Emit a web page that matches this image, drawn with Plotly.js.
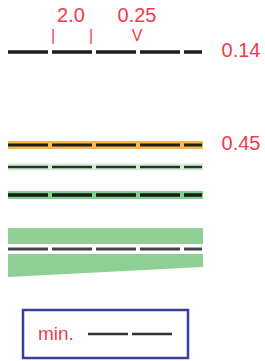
<!DOCTYPE html>
<html>
<head>
<meta charset="utf-8">
<script src="https://cdn.plot.ly/plotly-3.0.1.min.js"></script>
<style>html,body{margin:0;padding:0;background:#fff;}#chart{width:265px;height:361px;}</style>
</head>
<body>
<div id="chart"></div>
<script>
// ---- data ----
const rowNames = ['top', 'orange', 'lightgreen', 'green', 'band'];
const rowLevels = [52, 145, 167, 195, 249];          // y level of each dashed line
const valueLabels = ['0.14', '0.45', '', '', ''];     // value printed right of a row
const topLabels = ['2.0', '0.25'];
const topLabelX = [71, 137];
const markerGlyphs = ['|', '|', 'V'];
const markerX = [53, 91, 137];
const lineSpan = [8, 202];
const bandUpper = [228, 244];                         // green band above bottom line
const bandLowerTop = 254;
const bandLowerBottom = [277, 267];                   // sloped bottom edge (left, right)
const legendLabel = 'min.';

// ---- styles ----
const red = '#f23a4c';
const bandStyle = {
  orange: {color: '#f7b84b', width: 8},
  lightgreen: {color: '#d4eed6', width: 7},
  green: {color: '#82cf8c', width: 8}
};
const dashStyle = {
  top: {color: '#1e1e1e', width: 3.5},
  orange: {color: '#1e1e1e', width: 3},
  lightgreen: {color: '#2e2e2e', width: 2.5},
  green: {color: '#1a1a1a', width: 3.5},
  band: {color: '#444444', width: 3}
};
const font = 'Liberation Sans, Arial, sans-serif';

const traces = [];

// green band with sloped bottom (drawn first)
traces.push({
  x: [lineSpan[0], lineSpan[1] + 1, lineSpan[1] + 1, lineSpan[0], lineSpan[0]],
  y: [bandUpper[0], bandUpper[0], bandUpper[1], bandUpper[1], bandUpper[0]],
  mode: 'lines', fill: 'toself', fillcolor: '#8ecf96',
  line: {width: 0, color: '#8ecf96'}, hoverinfo: 'skip', showlegend: false
});
traces.push({
  x: [lineSpan[0], lineSpan[1] + 1, lineSpan[1] + 1, lineSpan[0], lineSpan[0]],
  y: [bandLowerTop, bandLowerTop, bandLowerBottom[1], bandLowerBottom[0], bandLowerTop],
  mode: 'lines', fill: 'toself', fillcolor: '#8ecf96',
  line: {width: 0, color: '#8ecf96'}, hoverinfo: 'skip', showlegend: false
});

// coloured bands behind lines
rowNames.forEach((name, i) => {
  if (bandStyle[name]) {
    traces.push({
      x: [lineSpan[0], lineSpan[1] + 1], y: [rowLevels[i], rowLevels[i]],
      mode: 'lines', line: {color: bandStyle[name].color, width: bandStyle[name].width},
      hoverinfo: 'skip', showlegend: false
    });
  }
});

// dashed lines
rowNames.forEach((name, i) => {
  traces.push({
    x: [lineSpan[0], lineSpan[1]], y: [rowLevels[i], rowLevels[i]],
    mode: 'lines', line: {color: dashStyle[name].color, width: dashStyle[name].width, dash: '40px,4px'},
    hoverinfo: 'skip', showlegend: false
  });
});

// value labels on the right
const vlX = [], vlY = [], vlT = [];
valueLabels.forEach((t, i) => { if (t) { vlX.push(241); vlY.push(rowLevels[i]); vlT.push(t); } });
traces.push({
  x: vlX, y: vlY, text: vlT, mode: 'text', textposition: 'middle center',
  textfont: {family: font, size: 20, color: red}, hoverinfo: 'skip', showlegend: false
});

// top labels
traces.push({
  x: topLabelX, y: topLabelX.map(() => 17), text: topLabels, mode: 'text', textposition: 'middle center',
  textfont: {family: font, size: 20, color: red}, hoverinfo: 'skip', showlegend: false
});
// marker glyphs
traces.push({
  x: markerX, y: markerX.map(() => 37), text: markerGlyphs, mode: 'text', textposition: 'middle center',
  textfont: {family: font, size: 16, color: red}, hoverinfo: 'skip', showlegend: false
});

// legend sample line
traces.push({
  x: [88, 172], y: [334, 334], mode: 'lines',
  line: {color: '#333333', width: 2.5, dash: '40px,4px'}, hoverinfo: 'skip', showlegend: false
});

const layout = {
  width: 265, height: 361,
  margin: {l: 0, r: 0, t: 0, b: 0, pad: 0},
  paper_bgcolor: '#ffffff', plot_bgcolor: '#ffffff',
  xaxis: {range: [0, 265], visible: false, fixedrange: true},
  yaxis: {range: [361, 0], visible: false, fixedrange: true},
  showlegend: false,
  shapes: [
    {type: 'rect', xref: 'x', yref: 'y', x0: 23, x1: 188, y0: 310, y1: 358,
     line: {color: '#3a3f9e', width: 2.5}, fillcolor: 'rgba(0,0,0,0)'}
  ],
  annotations: [
    {x: 56, y: 333, xref: 'x', yref: 'y', text: legendLabel, showarrow: false,
     font: {family: font, size: 19, color: red}, xanchor: 'center', yanchor: 'middle'}
  ]
};

Plotly.newPlot('chart', traces, layout, {staticPlot: true, displayModeBar: false});
</script>
</body>
</html>
